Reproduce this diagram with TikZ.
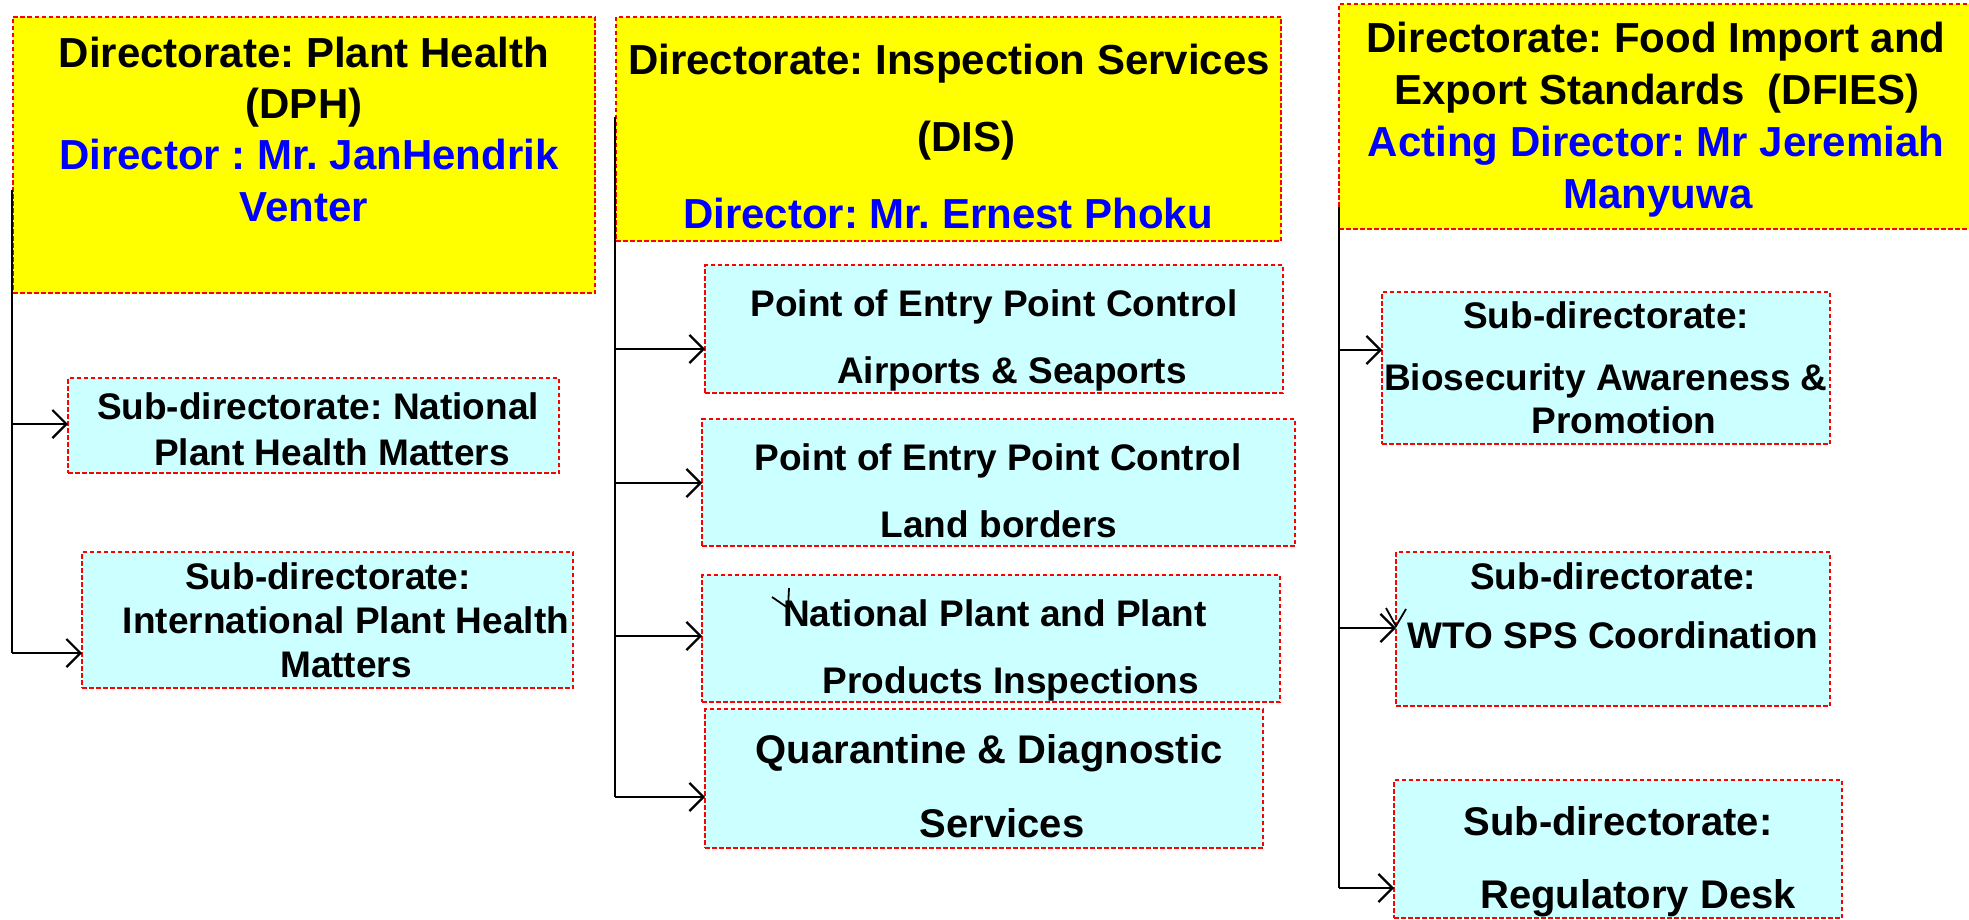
\documentclass[tikz,border=0pt]{standalone}
\usepackage{fontspec}
\setmainfont{Liberation Sans}
\frenchspacing
\usetikzlibrary{arrows.meta,fit}
\definecolor{hdr}{HTML}{FFFF00}
\definecolor{subc}{HTML}{CCFFFF}
\definecolor{bl}{HTML}{0000FF}
\definecolor{rd}{HTML}{FF0000}
\begin{document}
\begin{tikzpicture}[x=1pt,y=-1pt,
  box/.style={draw=rd, dash pattern=on 4.5pt off 2.5pt, line width=1.7pt, inner sep=0pt, outer sep=0pt},
  hbox/.style={box, fill=hdr},
  sbox/.style={box, fill=subc},
  t/.style={anchor=base, inner sep=0pt, font=\bfseries\fontsize{37}{44}\selectfont},
  tb/.style={anchor=base, inner sep=0pt, font=\bfseries\fontsize{42}{50}\selectfont},
  tq/.style={anchor=base, inner sep=0pt, font=\bfseries\fontsize{40}{48}\selectfont},
  con/.style={line width=2.2pt, draw=black},
  arr/.style={con, -{Straight Barb[length=14pt,width=28pt,line width=2.2pt]}}
]
\useasboundingbox (0,0) rectangle (1969,920);
\fill[white] (0,0) rectangle (1969,920);

% header boxes
\node[hbox, fit={(13,17) (595,293)}] (dph) {};
\node[hbox, fit={(616,17) (1281,241)}] (dis) {};
\node[hbox, fit={(1339,4) (1978,229)}] (dfies) {};

% sub boxes
\node[sbox, fit={(68,378) (559,473)}] (nphm) {};
\node[sbox, fit={(82,552) (573,688)}] (iphm) {};
\node[sbox, fit={(705,265) (1283,393)}] (poa) {};
\node[sbox, fit={(702,419) (1295,546)}] (pol) {};
\node[sbox, fit={(702,575) (1280,702)}] (nppi) {};
\node[sbox, fit={(705,709) (1263,848)}] (qd) {};
\node[sbox, fit={(1382,292) (1830,444)}] (bio) {};
\node[sbox, fit={(1396,552) (1830,706)}] (wto) {};
\node[sbox, fit={(1394,780) (1842,918)}] (reg) {};

% header texts
\node[tb] (dph1) at (304,68) {Directorate: Plant Health};
\node[tb] (dph2) at (304,119) {(DPH)};
\node[tb, text=bl] (dph3) at (309,170) {Director : Mr. JanHendrik};
\node[tb, text=bl] (dph4) at (304,221) {Venter};

\node[tb] (dis1) at (949,75) {Directorate: Inspection Services};
\node[tb] (dis2) at (966,152) {(DIS)};
\node[tb, text=bl] (dis3) at (948,229) {Director: Mr. Ernest Phoku};

\node[tb] (df1) at (1656,53) {Directorate: Food Import and};
\node[tb] (df2) at (1657,105) {Export Standards~~(DFIES)};
\node[tb, text=bl] (df3) at (1656,157) {Acting Director: Mr Jeremiah};
\node[tb, text=bl] (df4) at (1658,208) {Manyuwa};

% sub texts
\node[t] (n1) at (318,419) {Sub-directorate: National};
\node[t] (n2) at (332,465) {Plant Health Matters};

\node[t] (i1) at (328,589) {Sub-directorate:};
\node[t] (i2) at (346,633) {International Plant Health};
\node[t] (i3) at (346,677) {Matters};

\node[t] (pa1) at (994,316) {Point of Entry Point Control};
\node[t] (pa2) at (1012,383) {Airports \& Seaports};

\node[t] (pl1) at (998,470) {Point of Entry Point Control};
\node[t] (pl2) at (999,537) {Land borders};

\node[t] (np1) at (995,626) {National Plant and Plant};
\node[t] (np2) at (1011,693) {Products Inspections};

\node[tq] (q1) at (989,763) {Quarantine \& Diagnostic};
\node[tq] (q2) at (1002,837) {Services};

\node[t] (b1) at (1606,328) {Sub-directorate:};
\node[t] (b2) at (1606,390) {Biosecurity Awareness \&};
\node[t] (b3) at (1624,433) {Promotion};

\node[t] (w1) at (1613,589) {Sub-directorate:};
\node[t] (w2) at (1613,648) {WTO SPS Coordination};

\node[tq] (r1) at (1618,835) {Sub-directorate:};
\node[tq] (r2) at (1638,908) {Regulatory Desk};

% connectors: left
\coordinate (lt) at (12,190);
\coordinate (lb) at (12,653);
\coordinate (la) at (12,424);
\draw[con] (lt) -- (lb);
\draw[arr] (la) -- (la -| nphm.west);
\draw[arr] (lb) -- (lb -| iphm.west);

% connectors: middle
\coordinate (mt) at (615,117);
\coordinate (m1) at (615,349);
\coordinate (m2) at (615,483);
\coordinate (m3) at (615,636);
\coordinate (m4) at (615,797);
\draw[con] (mt) -- (m4);
\draw[arr] (m1) -- (m1 -| poa.west);
\draw[arr] (m2) -- (m2 -| pol.west);
\draw[arr] (m3) -- (m3 -| nppi.west);
\draw[arr] (m4) -- (m4 -| qd.west);

% connectors: right
\coordinate (rt) at (1339,207);
\coordinate (r1c) at (1339,350);
\coordinate (r2c) at (1339,628);
\coordinate (r3c) at (1339,888);
\draw[con] (rt) -- (r3c);
\draw[arr] (r1c) -- (r1c -| bio.west);
\draw[arr] (r2c) -- (r2c -| wto.west);
\draw[arr] (r3c) -- (r3c -| reg.west);

% stray strokes
\draw[con, line width=1.8pt] (772,597) -- (788,608) -- (789,588);
\draw[con, line width=1.8pt] (1386,608) -- (1396,626) -- (1406,609);
\end{tikzpicture}
\end{document}
